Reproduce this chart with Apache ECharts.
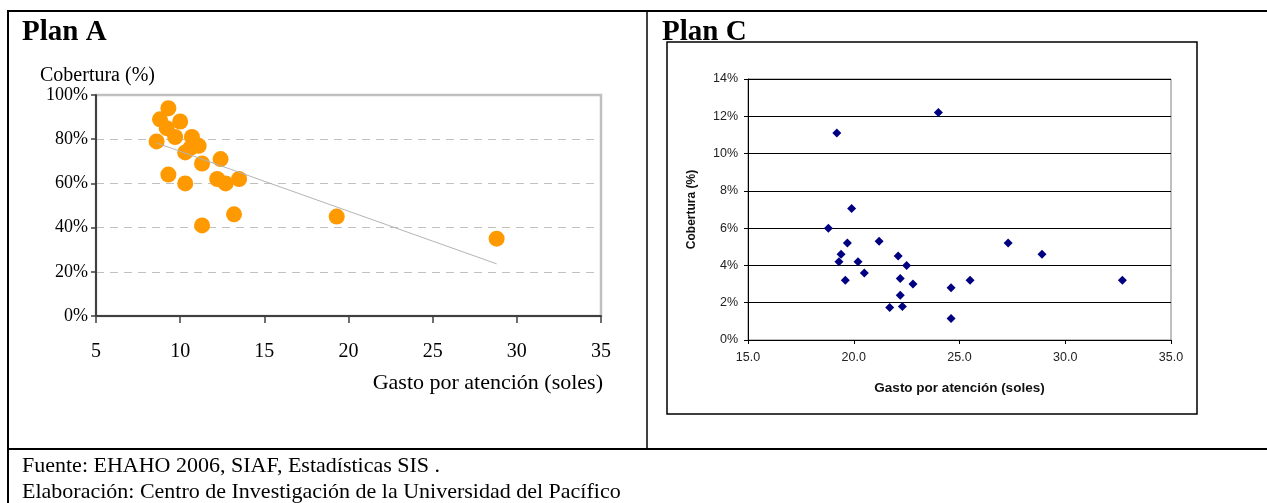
<!DOCTYPE html>
<html>
<head>
<meta charset="utf-8">
<script src="https://cdn.jsdelivr.net/npm/echarts@6/dist/echarts.min.js"></script>
<style>
  html, body { margin: 0; padding: 0; background: #fff; }
  #chart { width: 1267px; height: 503px; }
</style>
</head>
<body>
<div id="chart"></div>
<script>
// Plan A: gasto por atención (soles) vs cobertura (%)
const planAGasto = [9.3, 8.8, 10.0, 9.2, 9.7, 8.6, 10.7, 11.1, 10.6, 10.3, 11.3, 12.4, 9.3, 10.3, 12.2, 12.7, 13.5, 11.3, 13.2, 19.3, 28.8];
const planACobertura = [94, 89, 88, 85, 81, 79, 81, 77, 76, 74, 69, 71, 64, 60, 62, 60, 62, 41, 46, 45, 35];
// linear trend for Plan A (end points)
const planATrendGasto = [8.6, 28.8];
const planATrendCobertura = [78.3, 23.6];

// Plan C: gasto por atención (soles) vs cobertura (%)
const planCGasto = [18.8, 19.9, 19.7, 19.4, 19.3, 19.6, 20.2, 20.5, 21.2, 22.1, 22.5, 22.2, 22.2, 22.3, 21.7, 22.8, 24.6, 24.6, 25.5, 27.3, 28.9, 32.7, 19.2, 24.0];
const planCCobertura = [6.0, 7.05, 5.2, 4.6, 4.2, 3.2, 4.2, 3.6, 5.3, 4.5, 4.0, 3.3, 2.4, 1.8, 1.75, 3.0, 1.15, 2.8, 3.2, 5.2, 4.6, 3.2, 11.1, 12.2];

const planAXTicks = { min: 5, max: 35, interval: 5 };
const planAYTicks = { min: 0, max: 100, interval: 20 };
const planCXTicks = { min: 15, max: 35, interval: 5 };
const planCYTicks = { min: 0, max: 14, interval: 2 };

const footerLines = [
  'Fuente: EHAHO 2006, SIAF, Estadísticas SIS .',
  'Elaboración: Centro de Investigación de la Universidad del Pacífico'
];

const zip = (xs, ys) => xs.map((x, i) => [x, ys[i]]);

const serif = 'Liberation Serif';
const sans = 'Liberation Sans';

const chart = echarts.init(document.getElementById('chart'), null, { renderer: 'canvas' });

chart.setOption({
  animation: false,
  backgroundColor: '#fff',
  title: [
    { text: 'Plan A', left: 22, top: 18, padding: 0, textStyle: { fontFamily: serif, fontWeight: 'bold', fontSize: 29, color: '#000' } },
    { text: 'Plan C', left: 662, top: 18, padding: 0, textStyle: { fontFamily: serif, fontWeight: 'bold', fontSize: 29, color: '#000' } }
  ],
  grid: [
    { left: 96, top: 95, width: 505, height: 221, show: true, borderColor: '#c0c0c0', borderWidth: 2.5, backgroundColor: 'transparent' },
    { left: 748, top: 79, width: 423, height: 261, show: true, borderColor: '#808080', borderWidth: 1, backgroundColor: 'transparent' }
  ],
  xAxis: [
    {
      gridIndex: 0, type: 'value', min: planAXTicks.min, max: planAXTicks.max, interval: planAXTicks.interval,
      axisLine: { lineStyle: { color: '#404040', width: 2 } },
      axisTick: { show: true, length: 7, lineStyle: { color: '#404040', width: 1.5 } },
      axisLabel: { margin: 26, fontFamily: serif, fontSize: 20, color: '#000' },
      splitLine: { show: false }
    },
    {
      gridIndex: 1, type: 'value', min: planCXTicks.min, max: planCXTicks.max, interval: planCXTicks.interval,
      name: 'Gasto por atención (soles)', nameLocation: 'middle', nameGap: 41,
      nameTextStyle: { fontFamily: sans, fontWeight: 'bold', fontSize: 13.5, color: '#111' },
      axisLine: { lineStyle: { color: '#000', width: 1 } },
      axisTick: { show: true, length: 4, lineStyle: { color: '#000' } },
      axisLabel: { margin: 11, fontFamily: sans, fontSize: 12.5, color: '#222', formatter: v => v.toFixed(1) },
      splitLine: { show: false }
    }
  ],
  yAxis: [
    {
      gridIndex: 0, type: 'value', min: planAYTicks.min, max: planAYTicks.max, interval: planAYTicks.interval,
      axisLine: { show: true, lineStyle: { color: '#404040', width: 2 } },
      axisTick: { show: true, length: 5, lineStyle: { color: '#404040', width: 1.5 } },
      axisLabel: { margin: 8, fontFamily: serif, fontSize: 18, color: '#000', formatter: '{value}%' },
      splitLine: { show: true, lineStyle: { color: '#c0c0c0', type: [8, 6], width: 1 } }
    },
    {
      gridIndex: 1, type: 'value', min: planCYTicks.min, max: planCYTicks.max, interval: planCYTicks.interval,
      name: 'Cobertura (%)', nameLocation: 'middle', nameGap: 50, nameRotate: 90,
      nameTextStyle: { fontFamily: sans, fontWeight: 'bold', fontSize: 12, color: '#111' },
      axisLine: { show: true, lineStyle: { color: '#000', width: 1 } },
      axisTick: { show: true, length: 4, lineStyle: { color: '#000' } },
      axisLabel: { margin: 10, fontFamily: sans, fontSize: 12.5, color: '#222', formatter: '{value}%' },
      splitLine: { show: true, lineStyle: { color: '#000', width: 1 } }
    }
  ],
  series: [
    {
      type: 'scatter', xAxisIndex: 0, yAxisIndex: 0,
      data: zip(planAGasto, planACobertura),
      symbol: 'circle', symbolSize: 16,
      itemStyle: { color: '#ff9900', opacity: 1 },
      z: 2
    },
    {
      type: 'line', xAxisIndex: 0, yAxisIndex: 0,
      data: zip(planATrendGasto, planATrendCobertura),
      showSymbol: false, symbol: 'none',
      lineStyle: { color: '#b4b4b4', width: 1 },
      z: 3
    },
    {
      type: 'scatter', xAxisIndex: 1, yAxisIndex: 1,
      data: zip(planCGasto, planCCobertura),
      symbol: 'diamond', symbolSize: [9, 9],
      itemStyle: { color: '#000080', opacity: 1 },
      z: 3
    }
  ],
  graphic: [
    // table rules
    { type: 'line', shape: { x1: 7, y1: 11, x2: 1267, y2: 11 }, style: { stroke: '#000', lineWidth: 2 } },
    { type: 'line', shape: { x1: 8, y1: 10, x2: 8, y2: 503 }, style: { stroke: '#000', lineWidth: 2 } },
    { type: 'line', shape: { x1: 647, y1: 10, x2: 647, y2: 449 }, style: { stroke: '#000', lineWidth: 1.5 } },
    { type: 'line', shape: { x1: 7, y1: 449, x2: 1267, y2: 449 }, style: { stroke: '#000', lineWidth: 2 } },
    // frame around the Plan C chart
    { type: 'rect', shape: { x: 667, y: 42, width: 530, height: 372 }, style: { fill: 'none', stroke: '#000', lineWidth: 1.5 } },
    // Plan A axis titles
    { type: 'text', x: 40, y: 76, style: { text: 'Cobertura (%)', font: '20px "Liberation Serif"', fill: '#000', verticalAlign: 'middle', align: 'left' } },
    { type: 'text', x: 603, y: 383, style: { text: 'Gasto por atención (soles)', font: '22px "Liberation Serif"', fill: '#000', verticalAlign: 'middle', align: 'right' } },
    // footer
    { type: 'text', x: 22, y: 466, style: { text: footerLines[0], font: '22px "Liberation Serif"', fill: '#000', verticalAlign: 'middle' } },
    { type: 'text', x: 22, y: 492, style: { text: footerLines[1], font: '22px "Liberation Serif"', fill: '#000', verticalAlign: 'middle' } }
  ]
});
</script>
</body>
</html>
